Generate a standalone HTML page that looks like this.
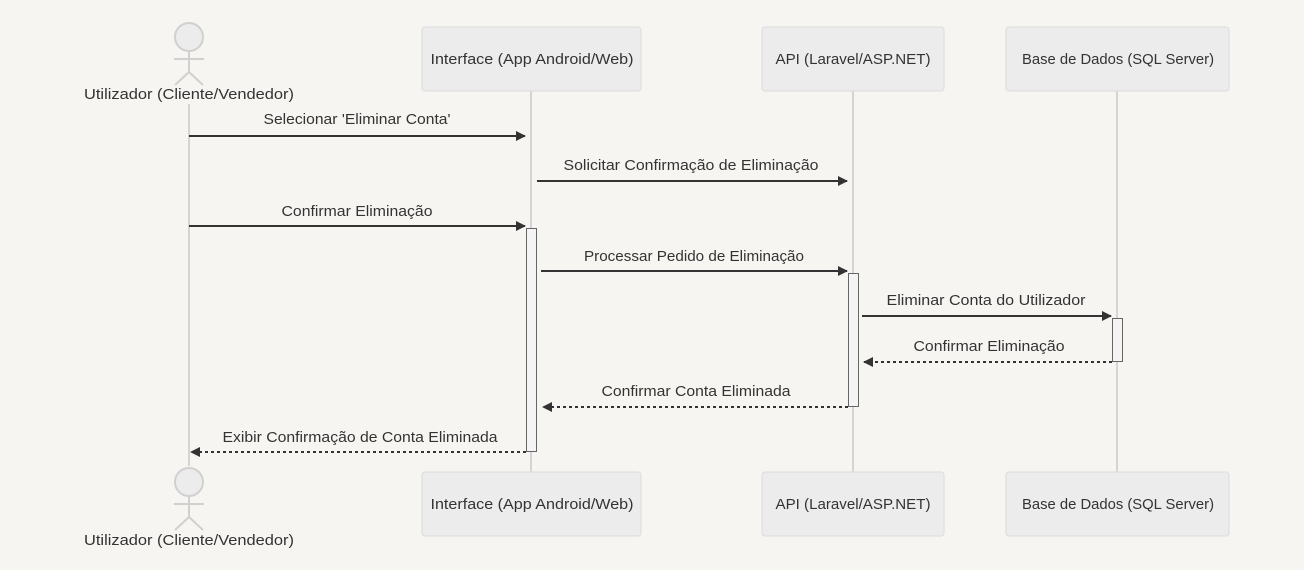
<!DOCTYPE html>
<html><head><meta charset="utf-8"><style>
html,body{margin:0;padding:0;background:#f6f5f2;}
svg{display:block;font-family:"Liberation Sans",sans-serif;}
</style></head><body>
<svg width="1304" height="570" viewBox="0 0 1304 570" xmlns="http://www.w3.org/2000/svg">
<defs>
<marker id="ah" viewBox="0 0 10 10" refX="9" refY="5" markerWidth="10" markerHeight="10" markerUnits="userSpaceOnUse" orient="auto"><path d="M0,0 L10,5 L0,10 z" fill="#333"/></marker>
</defs>
<rect width="1304" height="570" fill="#f6f5f2"/>
<g stroke="#d4d4d4" stroke-width="2">
<line x1="189" y1="104" x2="189" y2="466"/>
<line x1="531" y1="91" x2="531" y2="472"/>
<line x1="853" y1="91" x2="853" y2="472"/>
<line x1="1117" y1="91" x2="1117" y2="472"/>
</g>
<g fill="#ececec" stroke="#dcdcdc" stroke-width="1">
<rect x="422" y="27" width="219" height="64" rx="3"/>
<rect x="762" y="27" width="182" height="64" rx="3"/>
<rect x="1006" y="27" width="223" height="64" rx="3"/>
<rect x="422" y="472" width="219" height="64" rx="3"/>
<rect x="762" y="472" width="182" height="64" rx="3"/>
<rect x="1006" y="472" width="223" height="64" rx="3"/>
</g>
<g font-size="15" fill="#333" text-anchor="middle" lengthAdjust="spacingAndGlyphs">
<text x="532" y="64" textLength="203" lengthAdjust="spacingAndGlyphs">Interface (App Android/Web)</text>
<text x="853" y="64" textLength="155" lengthAdjust="spacingAndGlyphs">API (Laravel/ASP.NET)</text>
<text x="1118" y="64" textLength="192" lengthAdjust="spacingAndGlyphs">Base de Dados (SQL Server)</text>
<text x="532" y="509" textLength="203" lengthAdjust="spacingAndGlyphs">Interface (App Android/Web)</text>
<text x="853" y="509" textLength="155" lengthAdjust="spacingAndGlyphs">API (Laravel/ASP.NET)</text>
<text x="1118" y="509" textLength="192" lengthAdjust="spacingAndGlyphs">Base de Dados (SQL Server)</text>
<text x="189" y="99" textLength="210" lengthAdjust="spacingAndGlyphs">Utilizador (Cliente/Vendedor)</text>
<text x="189" y="545" textLength="210" lengthAdjust="spacingAndGlyphs">Utilizador (Cliente/Vendedor)</text>
</g>
<g fill="#ececec" stroke="#d0d0d0" stroke-width="2">
<circle cx="189" cy="37" r="14"/>
<line x1="189" y1="51" x2="189" y2="72"/>
<line x1="174" y1="59" x2="204" y2="59"/>
<line x1="189" y1="72" x2="175" y2="85"/>
<line x1="189" y1="72" x2="203" y2="85"/>
<circle cx="189" cy="482" r="14"/>
<line x1="189" y1="496" x2="189" y2="517"/>
<line x1="174" y1="504" x2="204" y2="504"/>
<line x1="189" y1="517" x2="175" y2="530"/>
<line x1="189" y1="517" x2="203" y2="530"/>
</g>
<g fill="#f4f4f4" stroke="#666" stroke-width="1">
<rect x="526.5" y="228.5" width="10" height="223"/>
<rect x="848.5" y="273.5" width="10" height="133"/>
<rect x="1112.5" y="318.5" width="10" height="43"/>
</g>
<g stroke="#333" stroke-width="2" marker-end="url(#ah)">
<line x1="189" y1="136" x2="525" y2="136"/>
<line x1="537" y1="181" x2="847" y2="181"/>
<line x1="189" y1="226" x2="525" y2="226"/>
<line x1="541" y1="271" x2="847" y2="271"/>
<line x1="862" y1="316" x2="1111" y2="316"/>
<line x1="1112" y1="362" x2="864" y2="362" stroke-dasharray="3,3"/>
<line x1="848" y1="407" x2="543" y2="407" stroke-dasharray="3,3"/>
<line x1="526" y1="452" x2="191" y2="452" stroke-dasharray="3,3"/>
</g>
<g font-size="15" fill="#333" text-anchor="middle">
<text x="357" y="124" textLength="187" lengthAdjust="spacingAndGlyphs">Selecionar 'Eliminar Conta'</text>
<text x="691" y="170" textLength="255" lengthAdjust="spacingAndGlyphs">Solicitar Confirmação de Eliminação</text>
<text x="357" y="216" textLength="151" lengthAdjust="spacingAndGlyphs">Confirmar Eliminação</text>
<text x="694" y="261" textLength="220" lengthAdjust="spacingAndGlyphs">Processar Pedido de Eliminação</text>
<text x="986" y="305" textLength="199" lengthAdjust="spacingAndGlyphs">Eliminar Conta do Utilizador</text>
<text x="989" y="351" textLength="151" lengthAdjust="spacingAndGlyphs">Confirmar Eliminação</text>
<text x="696" y="396" textLength="189" lengthAdjust="spacingAndGlyphs">Confirmar Conta Eliminada</text>
<text x="360" y="442" textLength="275" lengthAdjust="spacingAndGlyphs">Exibir Confirmação de Conta Eliminada</text>
</g>
</svg>
</body></html>
